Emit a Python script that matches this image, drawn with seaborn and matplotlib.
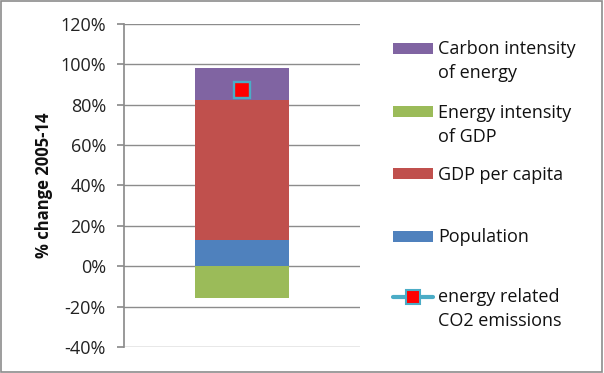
import matplotlib
matplotlib.use("Agg")
import matplotlib.pyplot as plt
import seaborn as sns
from matplotlib.patches import Rectangle
from matplotlib.lines import Line2D
from matplotlib.ticker import PercentFormatter, MultipleLocator

categories = ["2005-14"]
population = [12.7]
gdp_per_capita = [69.6]
carbon_intensity = [15.7]
energy_intensity = [-15.8]
co2_emissions = [87.0]

series_labels = ["Carbon intensity\nof energy", "Energy intensity\nof GDP", "GDP per capita",
                 "Population", "energy related\nCO2 emissions"]

sns.set_theme(style="white")
plt.rcParams['font.family'] = ['Open Sans', 'DejaVu Sans']
plt.rcParams['axes.unicode_minus'] = False

W, H = 604, 373
fig = plt.figure(figsize=(6.04, 3.73), dpi=100)
ax = fig.add_axes([124 / W, 0.070, 236 / W, 0.866])

c_purple = "#8064A2"
c_green = "#9BBB59"
c_red = "#C0504D"
c_blue = "#4F81BD"
c_cyan = "#4BACC6"

w = 0.40
kw = dict(width=w, ax=ax, saturation=1, linewidth=0)
sns.barplot(x=categories, y=population, color=c_blue, **kw)
sns.barplot(x=categories, y=gdp_per_capita, bottom=population, color=c_red, **kw)
bot2 = [p + g for p, g in zip(population, gdp_per_capita)]
sns.barplot(x=categories, y=carbon_intensity, bottom=bot2, color=c_purple, **kw)
sns.barplot(x=categories, y=energy_intensity, color=c_green, **kw)
ax.plot(categories, co2_emissions, linestyle="none", marker="s", markersize=11,
        markerfacecolor="#FF0000", markeredgecolor=c_cyan, markeredgewidth=1.7, zorder=5)

ax.set_xlim(-0.5, 0.5)
ax.set_ylim(-40, 120)
ax.yaxis.set_major_locator(MultipleLocator(20))
ax.yaxis.set_major_formatter(PercentFormatter(decimals=0))
ax.set_xticks([])
ax.set_xlabel("")
ax.yaxis.grid(True, color="#8C8C8C", linewidth=1)
ax.set_axisbelow(True)
for s in ["top", "right", "bottom"]:
    ax.spines[s].set_visible(False)
ax.spines["left"].set_color("#8C8C8C")
ax.tick_params(axis="y", which="major", left=True, length=5, color="#8C8C8C",
               labelsize=13, labelcolor="#222222", pad=8)
ax.set_ylabel("% change 2005-14", fontsize=12, fontweight="bold", color="#111111", labelpad=5)

# manual legend (pixel positions)
colors = [c_purple, c_green, c_red, c_blue, None]
ycent = [48.5, 111.5, 173.5, 236.5, 296.5]
sx0, sx1, tx = 393, 433, 438
for col, lab, yc in zip(colors, series_labels, ycent):
    if col is not None:
        fig.add_artist(Rectangle((sx0 / W, 1 - (yc + 5.5) / H), (sx1 - sx0) / W, 11 / H,
                                 transform=fig.transFigure, facecolor=col,
                                 edgecolor="none"))
    else:
        fig.add_artist(Line2D([sx0 / W, sx1 / W], [1 - yc / H, 1 - yc / H],
                              transform=fig.transFigure, color=c_cyan, linewidth=3))
        fig.add_artist(Line2D([(sx0 + sx1) / 2 / W], [1 - yc / H], transform=fig.transFigure,
                              linestyle="none", marker="s", markersize=9.5,
                              markerfacecolor="#FF0000", markeredgecolor=c_cyan,
                              markeredgewidth=1.5))
    for i, line in enumerate(lab.split("\n")):
        fig.text(tx / W, 1 - (yc + 24 * i - 1) / H, line, fontsize=13, color="#111111",
                 ha="left", va="center_baseline")

fig.add_artist(Rectangle((0.002, 0.003), 0.995, 0.993, transform=fig.transFigure,
                         fill=False, edgecolor="#8C8C8C", linewidth=1.2))

fig.savefig("out.png", dpi=100)
